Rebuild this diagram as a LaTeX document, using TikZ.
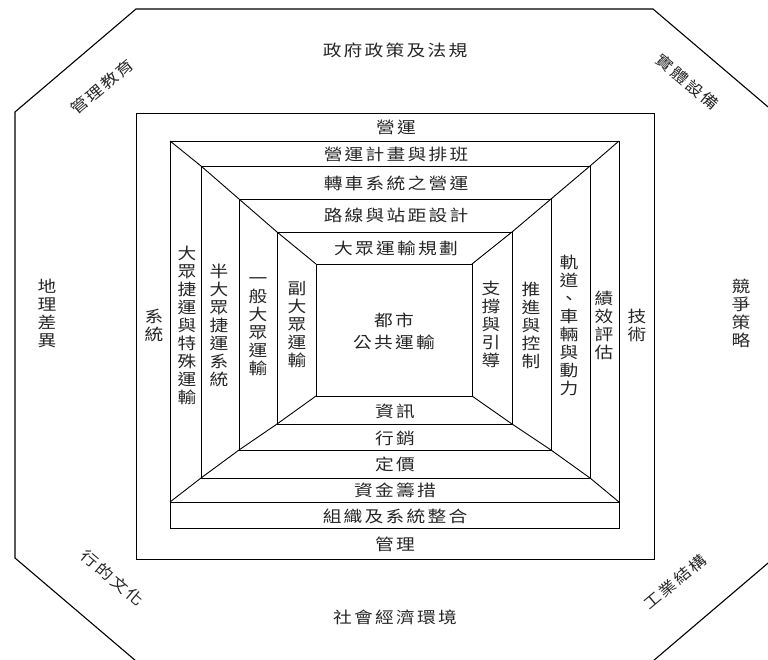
\documentclass[tikz,border=0pt]{standalone}
\usepackage{fontspec}
\newfontfamily\cjk[FakeStretch=1.17]{Noto Sans CJK TC}
\newfontfamily\cjkh[FakeStretch=1.17,LetterSpace=14]{Noto Sans CJK TC}
\tikzset{
  ln/.style={line width=0.9pt, black},
  oct/.style={line width=1.1pt, black},
  htxt/.style={font=\cjkh\fontsize{16}{18}\selectfont, inner sep=0pt, text=black!85},
  vtxt/.style={font=\cjk\fontsize{16}{18}\selectfont, align=center, inner sep=0pt, text=black!85},
  dtxt/.style={font=\cjkh\fontsize{15}{18}\selectfont, inner sep=0pt, text=black!85},
}
\begin{document}
\begin{tikzpicture}[x=1pt,y=-1pt]
\useasboundingbox (0,0) rectangle (768,659);
\clip (0,0) rectangle (768,659);
% octagon
\coordinate (o1) at (136,9);
\coordinate (o2) at (653,9);
\coordinate (o3) at (774,112);
\coordinate (o4) at (774,558);
\coordinate (o5) at (653,661);
\coordinate (o6) at (136,661);
\coordinate (o7) at (15,558);
\coordinate (o8) at (15,112);
\draw[oct] (o1) -- (o2) -- (o3) -- (o4) -- (o5) -- (o6) -- (o7) -- (o8) -- cycle;
% outer rectangle and band
\coordinate (outA) at (136,113);
\coordinate (outB) at (654,559);
\draw[ln] (outA) rectangle (outB);
\coordinate (bandA) at (170,502);
\coordinate (bandB) at (619,528);
\draw[ln] (bandA) rectangle (bandB);
% nested rectangles: corners
\coordinate (r0tl) at (316,264); \coordinate (r0tr) at (472,264);
\coordinate (r0bl) at (316,396); \coordinate (r0br) at (472,396);
\coordinate (r1tl) at (277,232); \coordinate (r1tr) at (512,232);
\coordinate (r1bl) at (277,424); \coordinate (r1br) at (512,424);
\coordinate (r2tl) at (239,199); \coordinate (r2tr) at (551,199);
\coordinate (r2bl) at (239,450); \coordinate (r2br) at (551,450);
\coordinate (r3tl) at (201,166); \coordinate (r3tr) at (590,166);
\coordinate (r3bl) at (201,478); \coordinate (r3br) at (590,478);
\coordinate (r4tl) at (170,141); \coordinate (r4tr) at (619,141);
\coordinate (r4bl) at (170,502); \coordinate (r4br) at (619,502);
\foreach \i in {0,...,4}{
  \draw[ln] (r\i tl) -- (r\i tr) -- (r\i br) -- (r\i bl) -- cycle;
}
\draw[ln] (r4tl) -- (r3tl) -- (r2tl) -- (r1tl) -- (r0tl);
\draw[ln] (r4tr) -- (r3tr) -- (r2tr) -- (r1tr) -- (r0tr);
\draw[ln] (r4bl) -- (r3bl) -- (r2bl) -- (r1bl) -- (r0bl);
\draw[ln] (r4br) -- (r3br) -- (r2br) -- (r1br) -- (r0br);
% outer labels
\node[htxt] (gov) at (395,50) {政府政策及法規};
\node[htxt] (soc) at (395,617) {社會經濟環境};
\node[vtxt] (geo) at (47,313) {地\\理\\差\\異};
\node[vtxt] (comp) at (741,313) {競\\爭\\策\\略};
\node[dtxt, rotate=40] (mgted) at (102,87) {管理教育};
\node[dtxt, rotate=-40] (phys) at (687,82) {實體設備};
\node[dtxt, rotate=-40] (cult) at (112,578) {行的文化};
\node[dtxt, rotate=40] (ind) at (675,582) {工業結構};
% top bands
\node[htxt] (op) at (396,127) {營運};
\node[htxt] (sched) at (396,154) {營運計畫與排班};
\node[htxt] (trans) at (396,183) {轉車系統之營運};
\node[htxt] (route) at (396,215) {路線與站距設計};
\node[htxt] (plan) at (396,248) {大眾運輸規劃};
% center
\node[htxt] (c1) at (394,320) {都市};
\node[htxt] (c2) at (394,342) {公共運輸};
% bottom bands
\node[htxt] (info) at (395,411) {資訊};
\node[htxt] (mkt) at (395,438) {行銷};
\node[htxt] (price) at (395,464) {定價};
\node[htxt] (fund) at (395,490) {資金籌措};
\node[htxt] (org) at (395,516) {組織及系統整合};
\node[htxt] (mgt) at (395,544) {管理};
% left columns
\node[vtxt] (sys) at (154,325) {系\\統};
\node[vtxt] (mrt) at (187,325) {大\\眾\\捷\\運\\與\\特\\殊\\運\\輸};
\node[vtxt] (semi) at (219,325) {半\\大\\眾\\捷\\運\\系\\統};
\node[vtxt] (gen) at (258,327) {一\\般\\大\\眾\\運\\輸};
\node[vtxt] (sub) at (297,325) {副\\大\\眾\\運\\輸};
% right columns
\node[vtxt] (sup) at (491,324) {支\\撐\\與\\引\\導};
\node[vtxt] (prop) at (531,325) {推\\進\\與\\控\\制};
\node[vtxt] (track) at (569,325) {軌\\道\\、\\車\\輛\\與\\動\\力};
\node[vtxt] (perf) at (604,325) {績\\效\\評\\估};
\node[vtxt] (tech) at (637,325) {技\\術};
\end{tikzpicture}
\end{document}
